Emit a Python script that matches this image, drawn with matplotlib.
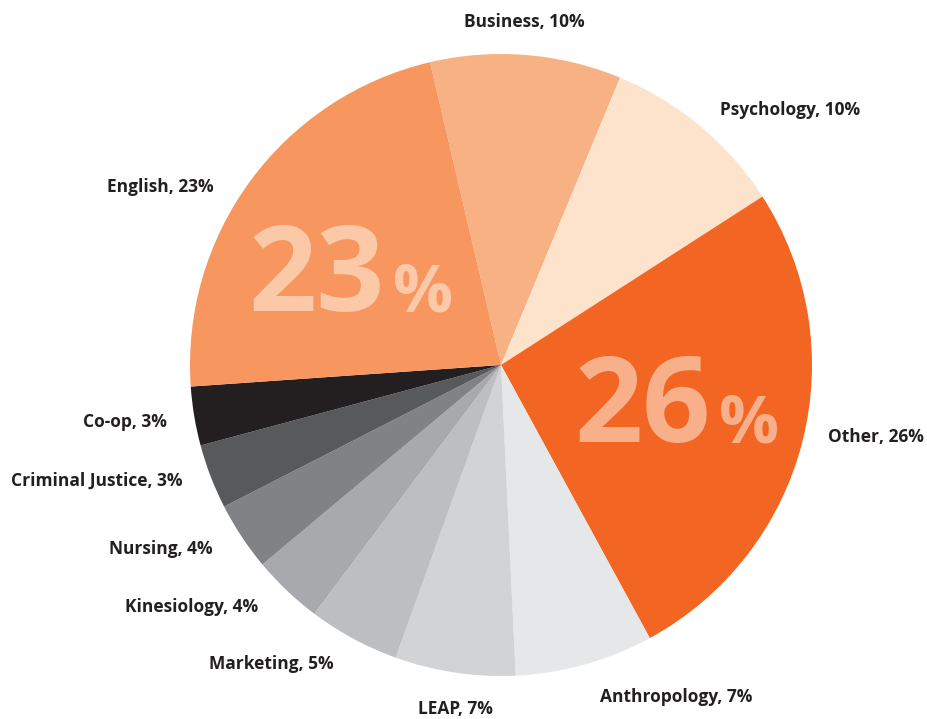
import numpy as np
import matplotlib.pyplot as plt

# Share of students by program
programs = ['Business', 'Psychology', 'Other', 'Anthropology', 'LEAP', 'Marketing',
            'Kinesiology', 'Nursing', 'Criminal Justice', 'Co-op', 'English']
# percentages as printed on the labels
printed = [10, 10, 26, 7, 7, 5, 4, 4, 3, 3, 23]
# slice sizes
shares = [9.92, 9.64, 26.17, 7.19, 6.25, 4.75, 3.67, 3.56, 3.36, 3.06, 22.44]
colors = ['#f8b183', '#fde2cc', '#f26522', '#e6e7e8', '#d1d3d4', '#bcbec0',
          '#a7a9ac', '#808285', '#58595b', '#231f20', '#f7965f']
# big call-outs drawn inside two wedges
callouts = {'English': '#fbc8a8', 'Other': '#f8b08b'}

# label placement: nudge (degrees) from wedge middle, and distance from centre
lbl_nudge = [0.7, -0.8, 1.9, 1.0, 1.0, -0.9, -1.6, -0.9, -1.0, 0.2, 4.6]
lbl_dist = [1.106, 1.081, 1.077, 1.114, 1.116, 1.10, 1.103, 1.099, 1.09, 1.089, 1.086]

plt.rcParams['font.family'] = ['Open Sans', 'DejaVu Sans']

fig = plt.figure(figsize=(9.28, 7.19), dpi=100)
W, H = 928, 719
cx, cy, R = 501, 365, 311
ax = fig.add_axes([(cx - R) / W, (H - cy - R) / H, 2 * R / W, 2 * R / H])

wedges, _ = ax.pie(shares, colors=colors, startangle=103.2, counterclock=False,
                   radius=1, wedgeprops=dict(linewidth=0))
ax.set_xlim(-1, 1)
ax.set_ylim(-1, 1)
ax.axis('off')

# outer labels
for w, name, val, dn, r in zip(wedges, programs, printed, lbl_nudge, lbl_dist):
    mid = (w.theta1 + w.theta2) / 2 + dn
    x, y = r * np.cos(np.radians(mid)), r * np.sin(np.radians(mid))
    if abs(x) < 0.2:
        ha = 'center'
    elif x > 0:
        ha = 'left'
    else:
        ha = 'right'
    ax.text(x, y, f'{name}, {val}%', ha=ha, va='center', fontsize=12.5,
            fontweight='bold', color='#231f20', clip_on=False)

# big percentage call-outs
for w, name, val in zip(wedges, programs, printed):
    if name not in callouts:
        continue
    mid = (w.theta1 + w.theta2) / 2 + 3.5
    r = 0.575
    x, y = r * np.cos(np.radians(mid)), r * np.sin(np.radians(mid))
    base = y - 0.14
    ax.text(x + 0.11, base, f'{val}', ha='right', va='baseline', fontsize=86,
            fontweight='bold', color=callouts[name])
    ax.text(x + 0.135, base, '%', ha='left', va='baseline', fontsize=48,
            fontweight='bold', color=callouts[name])

fig.savefig('out.png', dpi=100)
